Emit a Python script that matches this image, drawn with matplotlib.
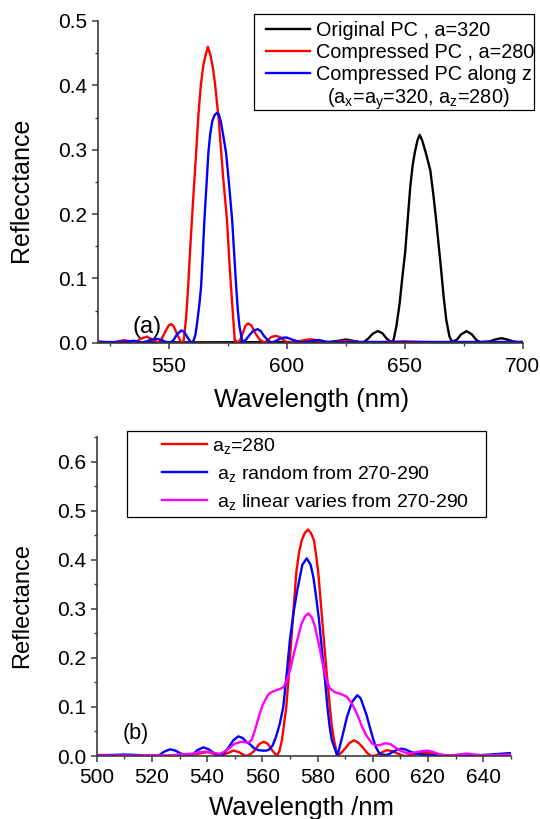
import matplotlib
matplotlib.use('Agg')
import matplotlib.pyplot as plt
from matplotlib.lines import Line2D
from matplotlib.patches import Rectangle
from matplotlib.ticker import MultipleLocator

plt.rcParams['font.family'] = ['Liberation Sans', 'DejaVu Sans']
plt.rcParams['mathtext.default'] = 'regular'

# ---- panel (a) ----
orig_x = [520, 560, 600, 606, 610, 614, 618, 622, 625, 628, 632.3, 634.5, 636.5, 638.6, 640.5,
          642.5, 644.3, 645.3, 646.5, 647.9, 649, 650.2, 651.3, 652.4, 653.4, 654.3, 655.5,
          656.4, 657.5, 659, 660.9, 662.2, 663.4, 664.5, 665.5, 666.6, 667.7, 669, 670, 672,
          674, 676.3, 678.5, 680.5, 682, 686, 688.5, 691, 693.5, 696, 698, 700]
orig_y = [0.0005, 0.0005, 0.001, 0.001, 0.002, 0.001, 0.001, 0.003, 0.005, 0.003, 0.0, 0.006, 0.014, 0.018, 0.015,
          0.006, 0.001, 0.004, 0.025, 0.061, 0.1, 0.139, 0.19, 0.242, 0.275, 0.295, 0.315,
          0.323, 0.314, 0.295, 0.268, 0.23, 0.19, 0.15, 0.113, 0.07, 0.035, 0.01, 0.002, 0.004,
          0.013, 0.018, 0.013, 0.004, 0.001, 0.002, 0.005, 0.007, 0.005, 0.002, 0.001, 0.001]

comp_x = [520, 523, 526, 528.5, 531, 533.5, 535.5, 538, 540.7, 543, 545.7, 547, 548.5, 550, 551,
          552, 553.5, 555, 556.2, 557.3, 558.2, 559, 560.3, 561.6, 562.6, 563.6, 564.6, 565.5,
          566.6, 567.8, 568.8, 569.7, 571.2, 573, 574.7, 575.8, 576.9, 578, 579.5, 580.5, 581.5,
          582.5, 583.6, 585, 586.5, 588.5, 590.6, 592, 593.5, 595.3, 597, 598.5, 600.3, 603,
          606, 609, 611, 614, 617, 620, 622, 624, 627, 630, 640, 650, 660, 700]
comp_y = [0.002, 0.001, 0.0, 0.002, 0.004, 0.002, 0.0, 0.006, 0.0095, 0.005, 0.0, 0.006, 0.017, 0.027, 0.029,
          0.026, 0.014, 0.002, 0.0, 0.036, 0.085, 0.14, 0.22, 0.295, 0.355, 0.40, 0.43, 0.445,
          0.46, 0.445, 0.425, 0.40, 0.346, 0.26, 0.19, 0.12, 0.06, 0.004, 0.0, 0.006, 0.016,
          0.026, 0.030, 0.027, 0.016, 0.005, 0.0, 0.004, 0.009, 0.0105, 0.009, 0.005, 0.0, 0.001,
          0.003, 0.005, 0.005, 0.002, 0.001, 0.001, 0.002, 0.003, 0.002, 0.001, 0.001, 0.002, 0.001, 0.001]

compz_x = [520, 525, 530, 532.5, 535, 537, 538.5, 540.5, 543, 545.3, 547, 549, 550.5, 552, 553.5,
           555.3, 556.5, 558, 559.5, 560.5, 561.3, 562, 563, 563.7, 564.4, 565.1, 566, 566.8,
           567.6, 568.5, 569.5, 570.4, 571.2, 572, 573.2, 574.3, 575.6, 576.9, 577.8, 578.6,
           579.3, 580, 581.3, 582.8, 584.5, 586, 587.7, 589, 590.5, 592, 593.5, 595, 596.5,
           598.5, 600, 601.5, 603, 606.5, 608, 610, 612, 614, 616, 618, 630, 640, 660, 680, 700]
compz_y = [0.001, 0.001, 0.001, 0.002, 0.003, 0.002, 0.0, 0.002, 0.005, 0.006, 0.004, 0.001, 0.0, 0.004, 0.013,
           0.019, 0.017, 0.008, 0.0, 0.003, 0.012, 0.03, 0.06, 0.087, 0.135, 0.19, 0.245, 0.295,
           0.325, 0.345, 0.354, 0.357, 0.355, 0.345, 0.32, 0.295, 0.245, 0.19, 0.135, 0.087,
           0.05, 0.025, 0.0, 0.005, 0.013, 0.019, 0.021, 0.018, 0.01, 0.004, 0.0, 0.002, 0.005,
           0.008, 0.008, 0.006, 0.004, 0.0, 0.001, 0.002, 0.004, 0.004, 0.002, 0.001, 0.001, 0.001, 0.001, 0.001, 0.001]

# ---- panel (b) ----
az_x = [500, 505, 510, 520, 528, 532, 536, 539, 540.5, 542.5, 544.8, 547, 549.5, 551.5, 554,
        555.5, 557, 559, 560.5, 562, 563.5, 565.3, 566.2, 567.1, 568.7, 569.6, 570.5, 571.4,
        572.3, 573.3, 574.3, 575.4, 576.6, 577.6, 578.7, 579.5, 580.3, 581.3, 582.3, 583.4,
        584.5, 585.2, 586, 587.2, 588.5, 590, 591.5, 593.2, 594.8, 596.5, 598, 599.5, 601,
        602.5, 605.1, 607, 609, 611.4, 613, 615, 617.5, 619.6, 621.5, 624, 628, 632, 635,
        640, 645, 650]
az_y = [0.002, 0.002, 0.001, 0.001, 0.0, 0.001, 0.004, 0.007, 0.008, 0.004, 0.0, 0.005, 0.011, 0.008, 0.0,
        0.003, 0.01, 0.025, 0.029, 0.025, 0.012, 0.0, 0.01, 0.032, 0.10, 0.165, 0.237, 0.305,
        0.373, 0.415, 0.44, 0.455, 0.462, 0.455, 0.44, 0.41, 0.373, 0.305, 0.237, 0.165,
        0.10, 0.06, 0.032, 0.0, 0.006, 0.015, 0.026, 0.032, 0.027, 0.017, 0.006, 0.0, 0.001,
        0.005, 0.012, 0.01, 0.005, 0.0, 0.001, 0.004, 0.006, 0.007, 0.006, 0.003, 0.0, 0.001, 0.002,
        0.001, 0.002, 0.003]

rand_x = [500, 505, 510, 515, 519, 521.5, 523, 524.5, 526.6, 528.5, 530.5, 533.5, 535, 536.5,
          538.6, 540.5, 542.5, 544.8, 546, 547.5, 549.5, 551.3, 552.8, 554, 555.5, 557, 558.5,
          560, 561.5, 562.5, 563.8, 565, 566.3, 567.6, 568.8, 570, 571.4, 572.7, 574.5, 576.1,
          577.5, 578.5, 579.6, 580.5, 581.2, 581.9, 582.8, 583.6, 584.4, 585.2, 587.2, 588.1,
          589, 590.7, 592.5, 594.4, 595.6, 596.5, 597.8, 598.9, 600, 601, 602, 603, 605, 606,
          607.5, 609, 610.5, 612, 613.5, 615, 617.5, 620, 625, 630, 635, 640, 645, 650]
rand_y = [0.001, 0.002, 0.003, 0.002, 0.001, 0.0, 0.003, 0.009, 0.0136, 0.011, 0.005, 0.0, 0.004, 0.012,
          0.0177, 0.014, 0.006, 0.0, 0.005, 0.015, 0.032, 0.04, 0.037, 0.03, 0.024, 0.016, 0.012,
          0.011, 0.011, 0.013, 0.022, 0.04, 0.065, 0.10, 0.165, 0.237, 0.295, 0.339, 0.39, 0.403,
          0.39, 0.365, 0.32, 0.28, 0.24, 0.2, 0.15, 0.10, 0.06, 0.032, 0.0, 0.02,
          0.04, 0.08, 0.11, 0.124, 0.118, 0.104, 0.083, 0.06, 0.038, 0.02, 0.009, 0.003, 0.002, 0.004,
          0.009, 0.013, 0.015, 0.013, 0.009, 0.006, 0.003, 0.002, 0.001, 0.0, 0.001, 0.002, 0.004, 0.006]

lin_x = [500, 510, 515, 520, 525, 530, 535, 537.5, 539.7, 542, 544.5, 546, 548, 550, 552.3, 555,
         556.2, 557.2, 558.2, 559.1, 560, 561, 562, 562.7, 564, 565, 566.5, 567.6, 568.6, 569.5,
         570.4, 571.2, 572.7, 574.2, 575.5, 576.7, 578, 579.1, 580.6, 582.1, 583.3, 584.3,
         585.1, 586.4, 587.6, 589, 590.6, 591.8, 593, 594.6, 596.1, 597.8, 599.7, 601, 602.5,
         604, 605.1, 606.5, 608, 610, 612.3, 614, 616, 618, 619.6, 621.5, 624, 626, 628, 631,
         634, 637, 640, 645, 650]
lin_y = [0.001, 0.001, 0.001, 0.002, 0.001, 0.003, 0.005, 0.008, 0.009, 0.007, 0.004, 0.008, 0.016, 0.025, 0.029, 0.027,
         0.033, 0.05, 0.07, 0.087, 0.102, 0.114, 0.124, 0.128, 0.132, 0.134, 0.137, 0.14, 0.15, 0.165,
         0.183, 0.203, 0.237, 0.27, 0.285, 0.291, 0.282, 0.264, 0.225, 0.182, 0.155, 0.14,
         0.135, 0.13, 0.128, 0.125, 0.121, 0.112, 0.101, 0.082, 0.06, 0.041, 0.026, 0.022, 0.022,
         0.025, 0.026, 0.024, 0.018, 0.011, 0.006, 0.006, 0.008, 0.01, 0.011, 0.009, 0.004, 0.002, 0.001, 0.003,
         0.005, 0.003, 0.001, 0.002, 0.003]

spine_col = '#3c3c3c'
lw = 1.7


def style_axes(ax, xtick_pad):
    for s in ['top', 'right']:
        ax.spines[s].set_visible(False)
    for s in ['left', 'bottom']:
        ax.spines[s].set_color(spine_col)
        ax.spines[s].set_linewidth(1.2)
    ax.tick_params(which='major', direction='out', length=4.5, width=1.1, color=spine_col,
                   labelsize=15)
    ax.tick_params(which='minor', direction='out', length=2.5, width=1.0, color=spine_col)
    ax.tick_params(axis='x', pad=xtick_pad)
    ax.tick_params(axis='y', pad=3)


fig = plt.figure(figsize=(5.4, 8.19), dpi=100)

# top panel
ax1 = fig.add_axes([98 / 540, 1 - 342.7 / 819, 424.5 / 540, 321.7 / 819])
ax1.plot(orig_x, orig_y, color='black', lw=lw, label='Original PC , a=320')
ax1.plot(comp_x, comp_y, color='#ff0000', lw=lw, label='Compressed PC , a=280')
ax1.plot(compz_x, compz_y, color='#0000ff', lw=lw, label='Compressed PC along z')
ax1.set_xlim(520, 700)
ax1.set_ylim(0, 0.5)
ax1.xaxis.set_major_locator(MultipleLocator(50))
ax1.xaxis.set_minor_locator(MultipleLocator(25))
ax1.yaxis.set_major_locator(MultipleLocator(0.1))
ax1.yaxis.set_minor_locator(MultipleLocator(0.05))
ax1.yaxis.set_major_formatter(lambda v, p: '%.1f' % v)
style_axes(ax1, 6)
ax1.set_xlabel('Wavelength (nm)', fontsize=18.5)
ax1.set_ylabel('Reflecctance', fontsize=18)
ax1.xaxis.set_label_coords(0.502, -0.14)
ax1.yaxis.set_label_coords(-0.153, 0.475)
ax1.text(540.9, 0.024, '(a)', fontsize=17, ha='center', va='center')

h1, l1 = ax1.get_legend_handles_labels()
h1.append(Line2D([], [], color='none'))
l1.append('  (a$_x$=a$_y$=320, a$_z$=280)')
fig.legend(h1, l1, loc='upper left', bbox_to_anchor=(266 / 540, 1 - 21 / 819),
           frameon=False, fontsize=14.3, borderpad=0, borderaxespad=0,
           handlelength=2.2, handletextpad=0.3, labelspacing=0.15)
fig.add_artist(Rectangle((254 / 540, 1 - 110 / 819), 280 / 540, 96 / 819,
                         transform=fig.transFigure, fill=False, edgecolor='black', lw=0.9))

# bottom panel
ax2 = fig.add_axes([96.7 / 540, 1 - 756 / 819, 414 / 540, 318.7 / 819])
ax2.plot(az_x, az_y, color='#ff0000', lw=lw, label='a$_z$=280')
ax2.plot(rand_x, rand_y, color='#0000ff', lw=lw, label=' a$_z$ random from 270-290')
ax2.plot(lin_x, lin_y, color='#ff00ff', lw=lw, label=' a$_z$ linear varies from 270-290')
ax2.set_xlim(500, 650)
ax2.set_ylim(0, 0.65)
ax2.xaxis.set_major_locator(MultipleLocator(20))
ax2.xaxis.set_minor_locator(MultipleLocator(10))
ax2.yaxis.set_major_locator(MultipleLocator(0.1))
ax2.yaxis.set_minor_locator(MultipleLocator(0.05))
ax2.yaxis.set_major_formatter(lambda v, p: '%.1f' % v)
style_axes(ax2, 4)
ax2.set_xlabel('Wavelength /nm', fontsize=18.5)
ax2.set_ylabel('Reflectance', fontsize=17)
ax2.xaxis.set_label_coords(0.4935, -0.125)
ax2.yaxis.set_label_coords(-0.154, 0.4707)
ax2.text(514.2, 0.045, '(b)', fontsize=15.5, ha='center', va='center')

ax2.legend(loc='upper left', bbox_to_anchor=(161.7 / 540, 1 - 435.5 / 819),
           bbox_transform=fig.transFigure, frameon=False, fontsize=14,
           borderpad=0, borderaxespad=0, handlelength=2.35, handletextpad=0.23,
           labelspacing=0.43)
fig.add_artist(Rectangle((127.3 / 540, 1 - 516.7 / 819), 358.7 / 540, 86 / 819,
                         transform=fig.transFigure, fill=False, edgecolor='black', lw=0.9))

fig.savefig('out.png', dpi=100)
